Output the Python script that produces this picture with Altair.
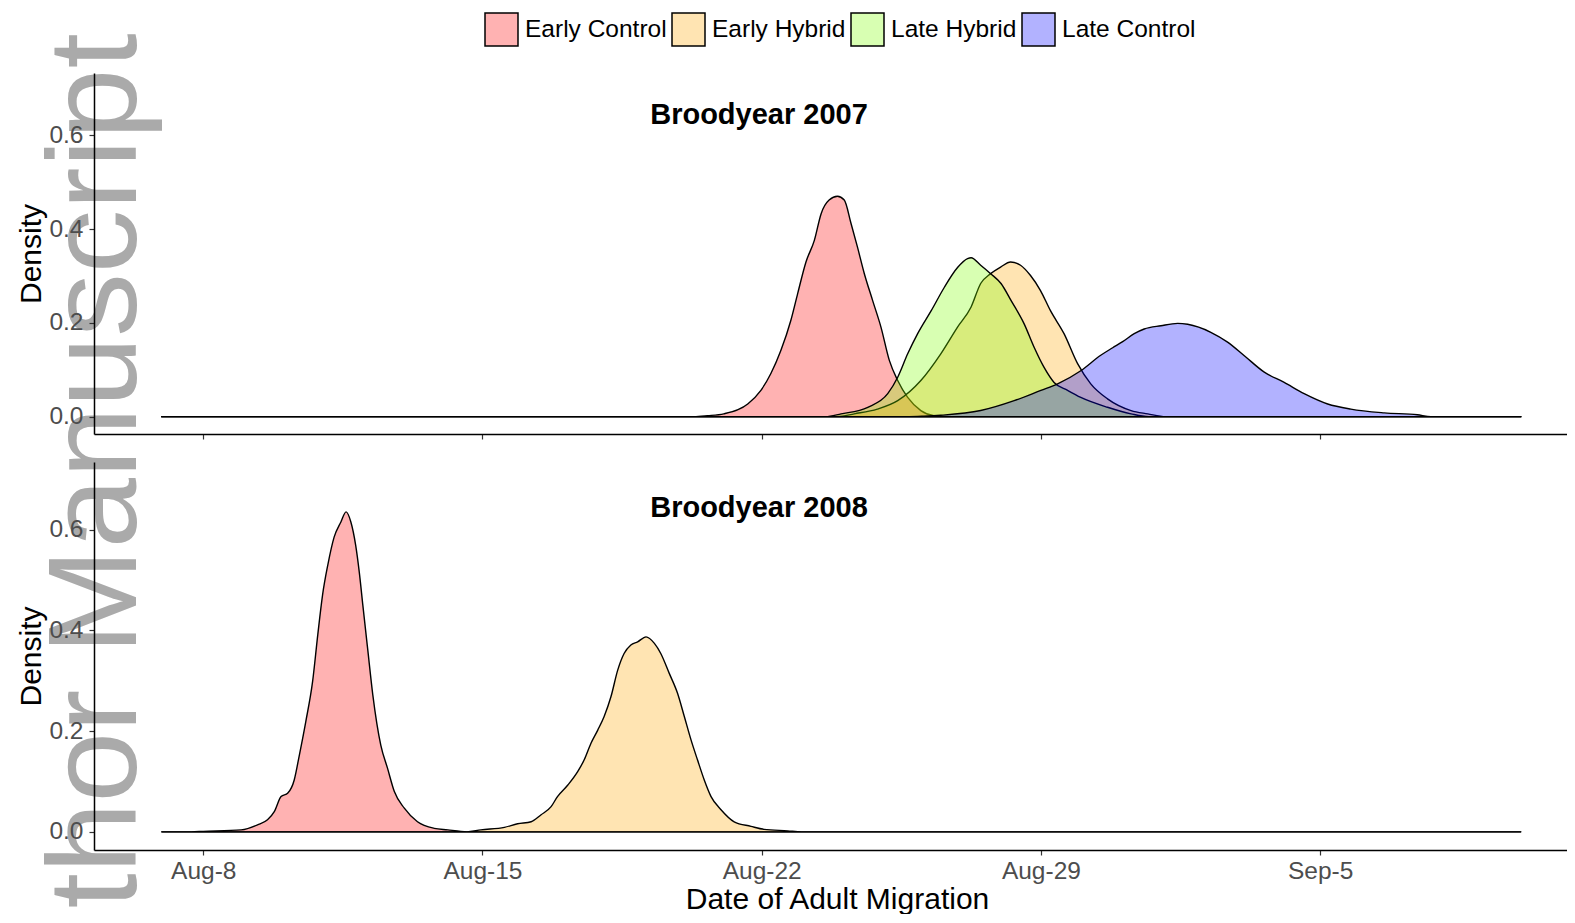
import altair as alt
import pandas as pd

# ---------------- data ----------------
GROUPS = ["Early Control", "Early Hybrid", "Late Hybrid", "Late Control"]
FILLS = ["rgba(255,0,0,0.3)", "rgba(255,165,0,0.3)", "rgba(127,255,0,0.3)", "rgba(0,0,255,0.3)"]

# day number counted from Aug-0 (Aug-8 = 8, Sep-5 = 36)
X_TICKS = [8, 15, 22, 29, 36]
Y_TICKS = [0.0, 0.2, 0.4, 0.6]
TITLE_2007 = "Broodyear 2007"
TITLE_2008 = "Broodyear 2008"
WATERMARK = "thor Manuscript"

# Broodyear 2007
ec07_day = [6.96, 20.30, 20.64, 21.05, 21.65, 21.98, 22.23, 22.48, 22.73, 22.90, 23.11, 23.32, 23.49, 23.69,
            23.90, 24.07, 24.24, 24.40, 24.57, 24.78, 24.99, 25.20, 25.41, 25.66, 25.99, 26.32, 26.70, 41.03]
ec07_den = [0.0, 0.0, 0.002, 0.006, 0.027, 0.056, 0.092, 0.141, 0.205, 0.262, 0.330, 0.376, 0.433, 0.462,
            0.470, 0.462, 0.412, 0.362, 0.306, 0.248, 0.191, 0.120, 0.077, 0.041, 0.013, 0.002, 0.0, 0.0]

eh07_day = [6.96, 23.90, 24.32, 24.90, 25.41, 25.99, 26.49, 26.91, 27.25, 27.49, 27.74, 27.99, 28.24, 28.49,
            28.74, 28.99, 29.24, 29.58, 29.92, 30.25, 30.67, 31.26, 31.68, 32.13, 41.03]
eh07_den = [0.0, 0.0, 0.006, 0.016, 0.034, 0.077, 0.134, 0.191, 0.234, 0.284, 0.305, 0.319, 0.330, 0.323,
            0.301, 0.269, 0.226, 0.177, 0.113, 0.070, 0.038, 0.013, 0.006, 0.0, 0.0]

lh07_day = [6.96, 23.60, 23.99, 24.66, 25.16, 25.41, 25.66, 25.91, 26.25, 26.58, 26.91, 27.16, 27.25, 27.49,
            27.74, 28.00, 28.25, 28.58, 28.83, 29.08, 29.33, 29.67, 30.00, 30.67, 31.26, 31.70, 41.03]
lh07_den = [0.0, 0.0, 0.006, 0.020, 0.049, 0.084, 0.134, 0.177, 0.226, 0.276, 0.318, 0.337, 0.339, 0.323,
            0.305, 0.284, 0.248, 0.198, 0.148, 0.105, 0.073, 0.056, 0.041, 0.020, 0.006, 0.0, 0.0]

lc07_day = [6.96, 25.70, 26.07, 26.49, 27.49, 28.33, 29.00, 29.42, 30.00, 30.50, 30.80, 31.05, 31.34, 31.59,
            32.01, 32.43, 32.68, 33.26, 33.68, 34.10, 34.60, 35.10, 35.60, 36.19, 36.77, 37.61, 38.44, 38.78, 41.03]
lc07_den = [0.0, 0.0, 0.001, 0.003, 0.013, 0.034, 0.056, 0.070, 0.098, 0.131, 0.147, 0.160, 0.177, 0.187,
            0.194, 0.199, 0.197, 0.180, 0.159, 0.130, 0.095, 0.073, 0.049, 0.027, 0.016, 0.008, 0.004, 0.0, 0.0]

# Broodyear 2008
ec08_day = [6.96, 7.70, 8.00, 8.95, 9.36, 9.61, 9.78, 9.95, 10.12, 10.28, 10.41, 10.57, 10.74, 10.87, 10.99,
            11.12, 11.28, 11.45, 11.58, 11.70, 11.82, 11.91, 12.00, 12.12, 12.25, 12.45, 12.62, 12.79, 13.04,
            13.37, 13.79, 14.13, 14.46, 14.80, 41.03]
ec08_den = [0.0, 0.0, 0.001, 0.004, 0.014, 0.024, 0.040, 0.070, 0.077, 0.103, 0.153, 0.219, 0.298, 0.391, 0.470,
            0.529, 0.585, 0.615, 0.635, 0.615, 0.569, 0.516, 0.450, 0.364, 0.272, 0.172, 0.126, 0.080, 0.047,
            0.020, 0.007, 0.004, 0.001, 0.0, 0.0]

eh08_day = [6.96, 14.60, 14.96, 15.55, 15.88, 16.22, 16.47, 16.72, 16.88, 17.14, 17.39, 17.55, 17.72, 17.89,
            18.05, 18.22, 18.39, 18.55, 18.72, 18.89, 19.10, 19.31, 19.47, 19.68, 19.89, 20.06, 20.23, 20.39,
            20.56, 20.73, 20.98, 21.31, 21.73, 22.06, 22.65, 23.00, 41.03]
eh08_den = [0.0, 0.0, 0.004, 0.009, 0.016, 0.020, 0.034, 0.050, 0.070, 0.093, 0.120, 0.143, 0.176, 0.202,
            0.229, 0.268, 0.321, 0.354, 0.371, 0.377, 0.387, 0.374, 0.354, 0.315, 0.275, 0.229, 0.182, 0.143,
            0.103, 0.070, 0.044, 0.020, 0.011, 0.005, 0.002, 0.0, 0.0]


def frame(parts):
    rows = []
    for name, days, dens in parts:
        for d, v in zip(days, dens):
            rows.append({"group": name, "day": d, "density": v})
    return pd.DataFrame(rows)


df07 = frame([("Early Control", ec07_day, ec07_den), ("Early Hybrid", eh07_day, eh07_den),
              ("Late Hybrid", lh07_day, lh07_den), ("Late Control", lc07_day, lc07_den)])
df08 = frame([("Early Control", ec08_day, ec08_den), ("Early Hybrid", eh08_day, eh08_den)])

# ---------------- styling ----------------
FONT = "Liberation Sans"
W = 1473
H_TOP = 361
H_BOT = 388
LABEL_EXPR = "datum.value <= 31 ? 'Aug-' + datum.value : 'Sep-' + (datum.value - 31)"

x_scale = alt.Scale(domain=[5.26, 42.19], nice=False, zero=False)

fill = alt.Fill(
    "group:N",
    scale=alt.Scale(domain=GROUPS, range=FILLS),
    legend=alt.Legend(
        orient="none", legendX=390, legendY=-61, direction="horizontal", title=None,
        symbolType="square", symbolSize=1089, symbolStrokeColor="black", symbolStrokeWidth=1.5,
        labelFont=FONT, labelFontSize=24.5, labelColor="black", labelOffset=6,
        columnPadding=2, padding=0, labelLimit=400,
    ),
)


def y_axis(height):
    return alt.Axis(
        values=Y_TICKS, format=".1f", title="Density", grid=False,
        domainColor="black", domainWidth=1.5, tickColor="#333333", tickSize=5, tickWidth=1.2,
        labelFont=FONT, labelFontSize=24.5, labelColor="#4d4d4d", labelPadding=6,
        titleFont=FONT, titleFontSize=30, titleFontWeight="normal", titleColor="black",
        titleAngle=270, titleX=-53.5, titleY=height / 2, titleAlign="center",
        titleBaseline="alphabetic", zindex=1,
    )


x_axis_top = alt.Axis(values=X_TICKS, labels=False, title=None, grid=False, domainColor="black",
                      domainWidth=1.5, tickColor="#333333", tickSize=5, tickWidth=1.2, zindex=1)
x_axis_bot = alt.Axis(values=X_TICKS, labelExpr=LABEL_EXPR, title="Date of Adult Migration", grid=False,
                      domainColor="black", domainWidth=1.5, tickColor="#333333", tickSize=5, tickWidth=1.2,
                      labelFont=FONT, labelFontSize=24.5, labelColor="#4d4d4d", labelPadding=4,
                      labelFlush=False, titleFont=FONT, titleFontSize=30, titleFontWeight="normal",
                      titleColor="black", titleX=743, titleY=58, titleAlign="center",
                      titleBaseline="alphabetic", zindex=1)


def areas(df, xaxis, yaxis, ydomain):
    return alt.Chart(df).mark_area(
        stroke="black", strokeWidth=1.4, strokeJoin="round", interpolate="monotone"
    ).encode(
        x=alt.X("day:Q", scale=x_scale, axis=xaxis),
        y=alt.Y("density:Q", stack=None, scale=alt.Scale(domain=ydomain, nice=False, zero=False), axis=yaxis),
        fill=fill,
    )


def title_text(txt, ypos):
    return alt.Chart(pd.DataFrame({"t": [txt]})).mark_text(
        font=FONT, fontSize=29, fontWeight="bold", color="black", align="center", baseline="alphabetic"
    ).encode(text="t:N", x=alt.value(665), y=alt.value(ypos))


watermark = alt.Chart(pd.DataFrame({"t": [WATERMARK]})).mark_text(
    font=FONT, fontSize=127, color="#aaaaaa", angle=270, align="right", baseline="alphabetic"
).encode(text="t:N", x=alt.value(42), y=alt.value(-39.7))

top = alt.layer(
    watermark,
    areas(df07, x_axis_top, y_axis(H_TOP), [-0.037, 0.733]),
    title_text(TITLE_2007, 51.3),
).properties(width=W, height=H_TOP)

bottom = alt.layer(
    areas(df08, x_axis_bot, y_axis(H_BOT), [-0.036, 0.734]),
    title_text(TITLE_2008, 54.7),
).properties(width=W, height=H_BOT)

chart = alt.vconcat(top, bottom, spacing=28, bounds="flush").resolve_scale(
    x="independent", y="independent", fill="shared"
).properties(
    padding={"left": 8, "top": 4, "right": 0, "bottom": 0}, background="white"
).configure_view(stroke=None)

chart.save("out.html", embed_options={"renderer": "svg", "actions": False})
